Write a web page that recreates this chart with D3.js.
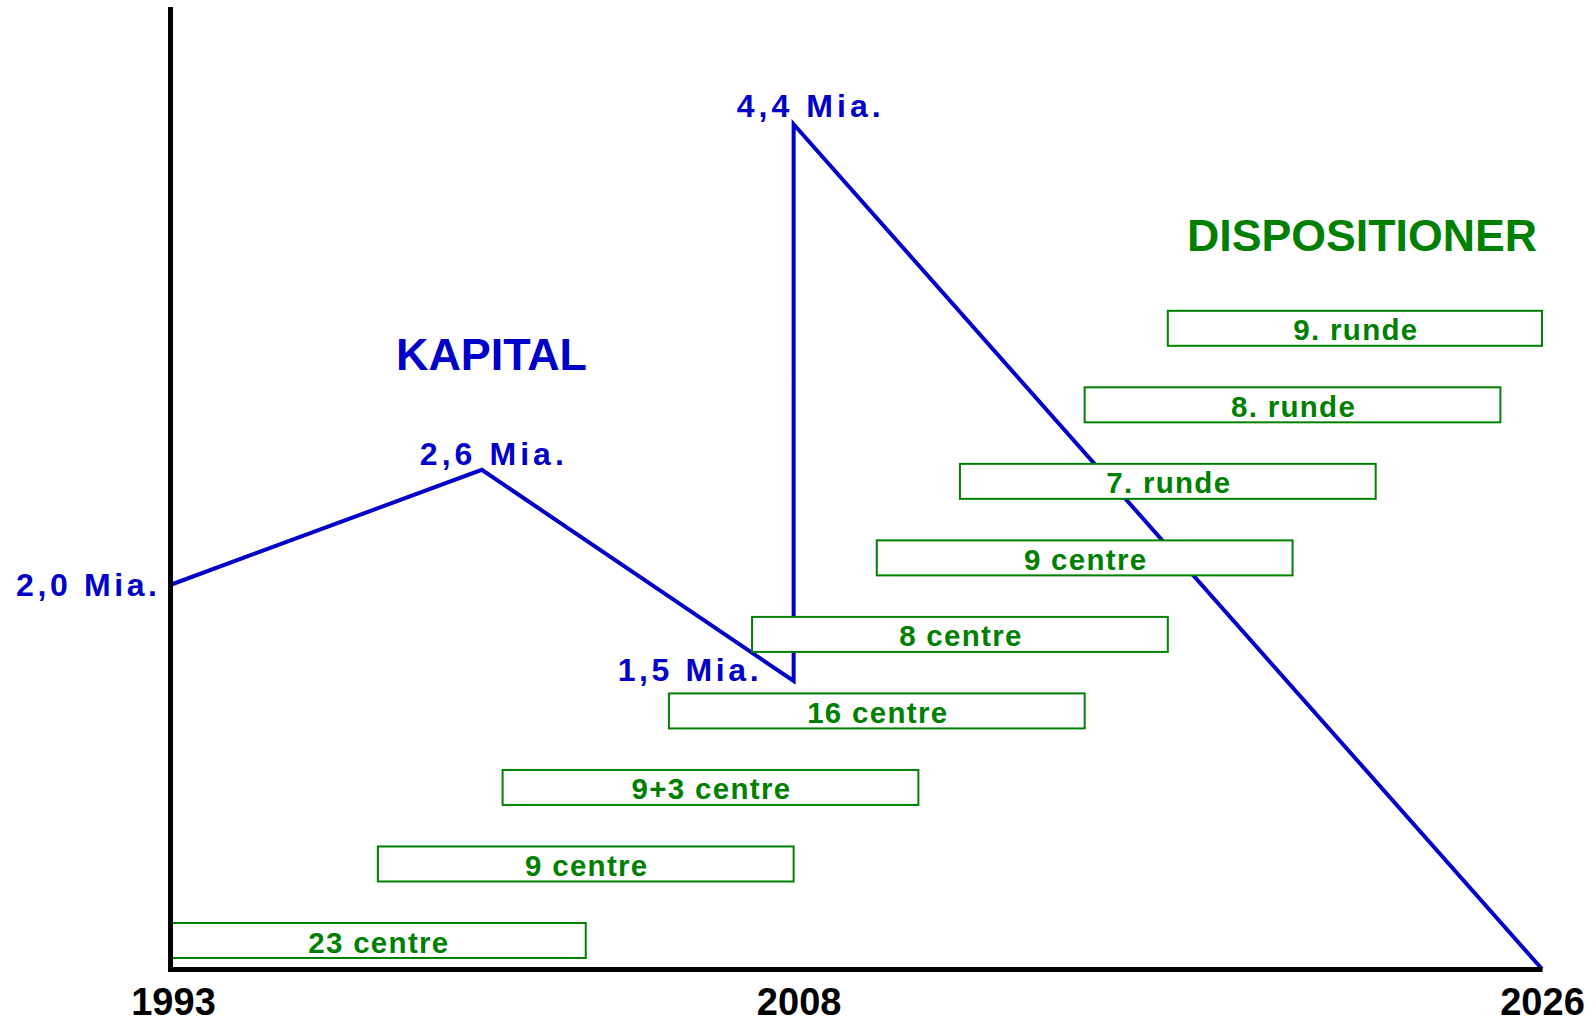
<!DOCTYPE html>
<html>
<head>
<meta charset="utf-8">
<script src="https://cdn.jsdelivr.net/npm/d3@7"></script>
<style>
  html, body { margin: 0; padding: 0; background: #fff; }
  svg { display: block; }
  text { font-family: "Liberation Sans", Arial, sans-serif; font-weight: bold; }
</style>
</head>
<body>
<svg id="chart" width="1596" height="1024"></svg>
<script>
// ---- data ----
const kapitalYears  = [1993, 2000.5, 2008, 2008, 2026];
const kapitalValues = [2.0, 2.6, 1.5, 4.4, 0];
const kapitalLabels = ["2,0 Mia.", "2,6 Mia.", "1,5 Mia.", "4,4 Mia.", null];

const boxLabels = ["23 centre", "9 centre", "9+3 centre", "16 centre", "8 centre",
                   "9 centre", "7. runde", "8. runde", "9. runde"];
const boxStart  = [1993, 1998, 2001, 2005, 2007, 2010, 2012, 2015, 2017];
const boxEnd    = [2003, 2008, 2011, 2015, 2017, 2020, 2022, 2025, 2026];

const yearTicks = [1993, 2008, 2026];
const titleKapital = "KAPITAL";
const titleDisp = "DISPOSITIONER";

// ---- layout / style ----
const BLUE = "#0000C8";
const GREEN = "#008000";
const svg = d3.select("#chart");

const x = d3.scaleLinear().domain([1993, 2026]).range([170, 1542]);
const y = d3.scaleLinear().domain([0, 5]).range([969, 9]);
const rowIdx = boxLabels.map((d, i) => i);
const row = d3.scalePoint().domain(rowIdx).range([940.5, 328.3]);
const boxH = 35;

// line
const pts = kapitalYears.map((yr, i) => ({ yr, v: kapitalValues[i], label: kapitalLabels[i] }));
const line = d3.line().x(d => x(d.yr)).y(d => y(d.v));
svg.append("path")
  .datum(pts)
  .attr("d", line)
  .attr("fill", "none")
  .attr("stroke", BLUE)
  .attr("stroke-width", 4)
  .attr("stroke-linejoin", "miter")
  .attr("stroke-miterlimit", 10);

// boxes
const boxes = svg.append("g").selectAll("g")
  .data(rowIdx)
  .join("g");
boxes.append("rect")
  .attr("x", i => x(boxStart[i]))
  .attr("y", i => row(i) - boxH / 2)
  .attr("width", i => x(boxEnd[i]) - x(boxStart[i]))
  .attr("height", boxH)
  .attr("fill", "#fff")
  .attr("stroke", GREEN)
  .attr("stroke-width", 2);
boxes.append("text")
  .attr("x", i => (x(boxStart[i]) + x(boxEnd[i])) / 2 + 1)
  .attr("y", i => row(i) + 12)
  .attr("text-anchor", "middle")
  .attr("fill", GREEN)
  .attr("font-size", 29.5)
  .attr("letter-spacing", "1.3px")
  .text(i => boxLabels[i]);

// axes
const xAxis = d3.axisBottom(x).tickValues(yearTicks).tickSize(0).tickSizeOuter(0).tickFormat(d3.format("d"));
const gx = svg.append("g").attr("transform", `translate(0,${y(0)})`).call(xAxis);
gx.select(".domain").attr("stroke", "#000").attr("stroke-width", 5);
gx.selectAll(".tick text")
  .attr("y", 46).attr("dy", 0)
  .attr("dx", (d) => d === 1993 ? 3 : (d === 2008 ? 5 : 0))
  .attr("fill", "#000")
  .style("font-family", '"Liberation Sans", Arial, sans-serif')
  .style("font-weight", "bold")
  .attr("font-size", 38);

const yAxis = d3.axisLeft(y).tickValues([]).tickSizeOuter(0);
const gy = svg.append("g").attr("transform", `translate(${x(1993)},0)`).call(yAxis);
gy.select(".domain").attr("stroke", "#000").attr("stroke-width", 5).attr("stroke-linecap", "square");

// value labels (placement offsets relative to the points)
const labelPlace = [
  { anchor: "end",    dx: -13, dy: 11,  w: 141 },
  { anchor: "middle", dx: 10,  dy: -5,  w: 144 },
  { anchor: "end",    dx: -35, dy: 0,   w: 141 },
  { anchor: "middle", dx: 15,  dy: -7,  w: 144 }
];
svg.append("g").selectAll("text")
  .data(pts.filter(d => d.label))
  .join("text")
  .attr("x", (d, i) => x(d.yr) + labelPlace[i].dx)
  .attr("y", (d, i) => y(d.v) + labelPlace[i].dy)
  .attr("text-anchor", (d, i) => labelPlace[i].anchor)
  .attr("font-size", 32)
  .attr("fill", BLUE)
  .attr("textLength", (d, i) => labelPlace[i].w)
  .attr("lengthAdjust", "spacing")
  .text(d => d.label);

// titles
svg.append("text")
  .attr("x", 396).attr("y", 370)
  .attr("font-size", 44)
  .attr("fill", BLUE)
  .attr("textLength", 191).attr("lengthAdjust", "spacingAndGlyphs")
  .text(titleKapital);
svg.append("text")
  .attr("x", 1187).attr("y", 251)
  .attr("font-size", 45)
  .attr("fill", GREEN)
  .attr("textLength", 350).attr("lengthAdjust", "spacingAndGlyphs")
  .text(titleDisp);
</script>
</body>
</html>
